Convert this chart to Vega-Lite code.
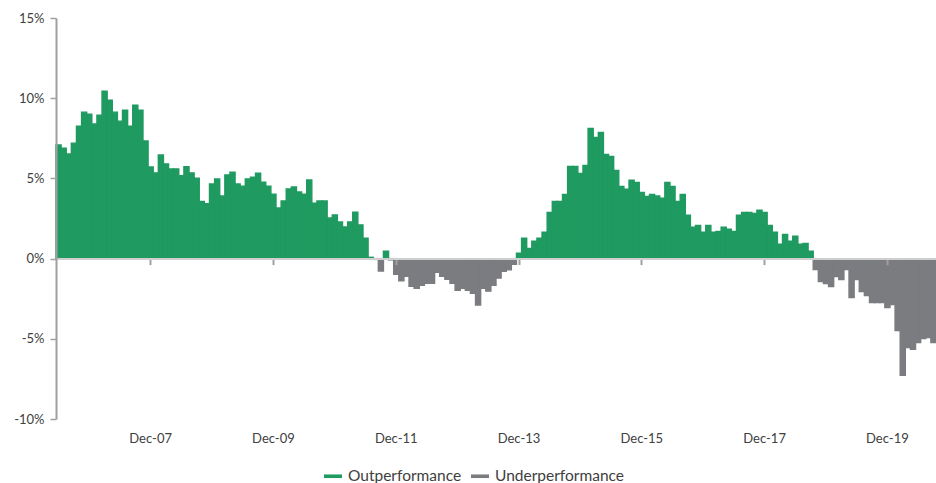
{
  "$schema": "https://vega.github.io/schema/vega-lite/v6.json",
  "autosize": "none",
  "width": 880,
  "height": 401,
  "padding": {"left": 56, "top": 18, "right": 0, "bottom": 64},
  "background": "white",
  "config": {
    "font": "Lato",
    "view": {"stroke": null}
  },
  "data": {"values": [
    {"d":"2006-06","v":7.08,"s":"Outperformance"},{"d":"2006-07","v":6.89,"s":"Outperformance"},{"d":"2006-08","v":6.52,"s":"Outperformance"},{"d":"2006-09","v":7.20,"s":"Outperformance"},{"d":"2006-10","v":8.26,"s":"Outperformance"},{"d":"2006-11","v":9.13,"s":"Outperformance"},{"d":"2006-12","v":9.00,"s":"Outperformance"},
    {"d":"2007-01","v":8.39,"s":"Outperformance"},{"d":"2007-02","v":8.94,"s":"Outperformance"},{"d":"2007-03","v":10.43,"s":"Outperformance"},{"d":"2007-04","v":9.88,"s":"Outperformance"},{"d":"2007-05","v":9.13,"s":"Outperformance"},{"d":"2007-06","v":8.57,"s":"Outperformance"},{"d":"2007-07","v":9.25,"s":"Outperformance"},{"d":"2007-08","v":8.26,"s":"Outperformance"},{"d":"2007-09","v":9.57,"s":"Outperformance"},{"d":"2007-10","v":9.25,"s":"Outperformance"},{"d":"2007-11","v":7.33,"s":"Outperformance"},{"d":"2007-12","v":5.71,"s":"Outperformance"},
    {"d":"2008-01","v":5.34,"s":"Outperformance"},{"d":"2008-02","v":6.46,"s":"Outperformance"},{"d":"2008-03","v":5.90,"s":"Outperformance"},{"d":"2008-04","v":5.59,"s":"Outperformance"},{"d":"2008-05","v":5.59,"s":"Outperformance"},{"d":"2008-06","v":5.17,"s":"Outperformance"},{"d":"2008-07","v":5.73,"s":"Outperformance"},{"d":"2008-08","v":5.34,"s":"Outperformance"},{"d":"2008-09","v":5.02,"s":"Outperformance"},{"d":"2008-10","v":3.56,"s":"Outperformance"},{"d":"2008-11","v":3.43,"s":"Outperformance"},{"d":"2008-12","v":4.65,"s":"Outperformance"},
    {"d":"2009-01","v":4.96,"s":"Outperformance"},{"d":"2009-02","v":3.90,"s":"Outperformance"},{"d":"2009-03","v":5.21,"s":"Outperformance"},{"d":"2009-04","v":5.39,"s":"Outperformance"},{"d":"2009-05","v":4.65,"s":"Outperformance"},{"d":"2009-06","v":4.52,"s":"Outperformance"},{"d":"2009-07","v":4.96,"s":"Outperformance"},{"d":"2009-08","v":5.08,"s":"Outperformance"},{"d":"2009-09","v":5.33,"s":"Outperformance"},{"d":"2009-10","v":4.77,"s":"Outperformance"},{"d":"2009-11","v":4.52,"s":"Outperformance"},{"d":"2009-12","v":4.02,"s":"Outperformance"},
    {"d":"2010-01","v":3.15,"s":"Outperformance"},{"d":"2010-02","v":3.59,"s":"Outperformance"},{"d":"2010-03","v":4.34,"s":"Outperformance"},{"d":"2010-04","v":4.46,"s":"Outperformance"},{"d":"2010-05","v":4.15,"s":"Outperformance"},{"d":"2010-06","v":4.02,"s":"Outperformance"},{"d":"2010-07","v":4.90,"s":"Outperformance"},{"d":"2010-08","v":3.46,"s":"Outperformance"},{"d":"2010-09","v":3.59,"s":"Outperformance"},{"d":"2010-10","v":3.59,"s":"Outperformance"},{"d":"2010-11","v":2.53,"s":"Outperformance"},{"d":"2010-12","v":2.72,"s":"Outperformance"},
    {"d":"2011-01","v":2.28,"s":"Outperformance"},{"d":"2011-02","v":1.97,"s":"Outperformance"},{"d":"2011-03","v":2.28,"s":"Outperformance"},{"d":"2011-04","v":2.90,"s":"Outperformance"},{"d":"2011-05","v":2.10,"s":"Outperformance"},{"d":"2011-06","v":1.27,"s":"Outperformance"},{"d":"2011-07","v":0.08,"s":"Outperformance"},{"d":"2011-08","v":-0.05,"s":"Underperformance"},{"d":"2011-09","v":-0.77,"s":"Underperformance"},{"d":"2011-10","v":0.46,"s":"Outperformance"},{"d":"2011-11","v":-0.08,"s":"Underperformance"},{"d":"2011-12","v":-0.98,"s":"Underperformance"},
    {"d":"2012-01","v":-1.39,"s":"Underperformance"},{"d":"2012-02","v":-1.10,"s":"Underperformance"},{"d":"2012-03","v":-1.72,"s":"Underperformance"},{"d":"2012-04","v":-1.85,"s":"Underperformance"},{"d":"2012-05","v":-1.66,"s":"Underperformance"},{"d":"2012-06","v":-1.54,"s":"Underperformance"},{"d":"2012-07","v":-1.54,"s":"Underperformance"},{"d":"2012-08","v":-0.85,"s":"Underperformance"},{"d":"2012-09","v":-1.10,"s":"Underperformance"},{"d":"2012-10","v":-1.29,"s":"Underperformance"},{"d":"2012-11","v":-1.54,"s":"Underperformance"},{"d":"2012-12","v":-1.97,"s":"Underperformance"},
    {"d":"2013-01","v":-1.85,"s":"Underperformance"},{"d":"2013-02","v":-1.97,"s":"Underperformance"},{"d":"2013-03","v":-2.16,"s":"Underperformance"},{"d":"2013-04","v":-2.90,"s":"Underperformance"},{"d":"2013-05","v":-1.85,"s":"Underperformance"},{"d":"2013-06","v":-2.03,"s":"Underperformance"},{"d":"2013-07","v":-1.66,"s":"Underperformance"},{"d":"2013-08","v":-1.22,"s":"Underperformance"},{"d":"2013-09","v":-0.79,"s":"Underperformance"},{"d":"2013-10","v":-0.70,"s":"Underperformance"},{"d":"2013-11","v":-0.35,"s":"Underperformance"},{"d":"2013-12","v":0.33,"s":"Outperformance"},
    {"d":"2014-01","v":1.27,"s":"Outperformance"},{"d":"2014-02","v":0.64,"s":"Outperformance"},{"d":"2014-03","v":1.08,"s":"Outperformance"},{"d":"2014-04","v":1.27,"s":"Outperformance"},{"d":"2014-05","v":1.64,"s":"Outperformance"},{"d":"2014-06","v":2.88,"s":"Outperformance"},{"d":"2014-07","v":3.57,"s":"Outperformance"},{"d":"2014-08","v":3.57,"s":"Outperformance"},{"d":"2014-09","v":4.00,"s":"Outperformance"},{"d":"2014-10","v":5.75,"s":"Outperformance"},{"d":"2014-11","v":5.75,"s":"Outperformance"},{"d":"2014-12","v":5.31,"s":"Outperformance"},
    {"d":"2015-01","v":5.81,"s":"Outperformance"},{"d":"2015-02","v":8.11,"s":"Outperformance"},{"d":"2015-03","v":7.55,"s":"Outperformance"},{"d":"2015-04","v":7.86,"s":"Outperformance"},{"d":"2015-05","v":6.49,"s":"Outperformance"},{"d":"2015-06","v":6.37,"s":"Outperformance"},{"d":"2015-07","v":5.50,"s":"Outperformance"},{"d":"2015-08","v":4.50,"s":"Outperformance"},{"d":"2015-09","v":4.32,"s":"Outperformance"},{"d":"2015-10","v":4.88,"s":"Outperformance"},{"d":"2015-11","v":4.75,"s":"Outperformance"},{"d":"2015-12","v":4.13,"s":"Outperformance"},
    {"d":"2016-01","v":3.88,"s":"Outperformance"},{"d":"2016-02","v":4.00,"s":"Outperformance"},{"d":"2016-03","v":3.90,"s":"Outperformance"},{"d":"2016-04","v":3.76,"s":"Outperformance"},{"d":"2016-05","v":4.75,"s":"Outperformance"},{"d":"2016-06","v":4.50,"s":"Outperformance"},{"d":"2016-07","v":3.57,"s":"Outperformance"},{"d":"2016-08","v":4.00,"s":"Outperformance"},{"d":"2016-09","v":2.70,"s":"Outperformance"},{"d":"2016-10","v":1.95,"s":"Outperformance"},{"d":"2016-11","v":2.07,"s":"Outperformance"},{"d":"2016-12","v":1.64,"s":"Outperformance"},
    {"d":"2017-01","v":2.07,"s":"Outperformance"},{"d":"2017-02","v":1.64,"s":"Outperformance"},{"d":"2017-03","v":1.70,"s":"Outperformance"},{"d":"2017-04","v":1.95,"s":"Outperformance"},{"d":"2017-05","v":1.83,"s":"Outperformance"},{"d":"2017-06","v":1.70,"s":"Outperformance"},{"d":"2017-07","v":2.70,"s":"Outperformance"},{"d":"2017-08","v":2.88,"s":"Outperformance"},{"d":"2017-09","v":2.88,"s":"Outperformance"},{"d":"2017-10","v":2.82,"s":"Outperformance"},{"d":"2017-11","v":3.01,"s":"Outperformance"},{"d":"2017-12","v":2.88,"s":"Outperformance"},
    {"d":"2018-01","v":2.07,"s":"Outperformance"},{"d":"2018-02","v":1.64,"s":"Outperformance"},{"d":"2018-03","v":0.89,"s":"Outperformance"},{"d":"2018-04","v":1.51,"s":"Outperformance"},{"d":"2018-05","v":1.08,"s":"Outperformance"},{"d":"2018-06","v":1.39,"s":"Outperformance"},{"d":"2018-07","v":0.89,"s":"Outperformance"},{"d":"2018-08","v":0.95,"s":"Outperformance"},{"d":"2018-09","v":0.46,"s":"Outperformance"},{"d":"2018-10","v":-0.68,"s":"Underperformance"},{"d":"2018-11","v":-1.43,"s":"Underperformance"},{"d":"2018-12","v":-1.56,"s":"Underperformance"},
    {"d":"2019-01","v":-1.74,"s":"Underperformance"},{"d":"2019-02","v":-1.12,"s":"Underperformance"},{"d":"2019-03","v":-1.31,"s":"Underperformance"},{"d":"2019-04","v":-0.68,"s":"Underperformance"},{"d":"2019-05","v":-2.43,"s":"Underperformance"},{"d":"2019-06","v":-1.31,"s":"Underperformance"},{"d":"2019-07","v":-2.05,"s":"Underperformance"},{"d":"2019-08","v":-2.30,"s":"Underperformance"},{"d":"2019-09","v":-2.74,"s":"Underperformance"},{"d":"2019-10","v":-2.74,"s":"Underperformance"},{"d":"2019-11","v":-2.74,"s":"Underperformance"},{"d":"2019-12","v":-3.05,"s":"Underperformance"},
    {"d":"2020-01","v":-2.86,"s":"Underperformance"},{"d":"2020-02","v":-4.48,"s":"Underperformance"},{"d":"2020-03","v":-7.28,"s":"Underperformance"},{"d":"2020-04","v":-5.54,"s":"Underperformance"},{"d":"2020-05","v":-5.66,"s":"Underperformance"},{"d":"2020-06","v":-5.23,"s":"Underperformance"},{"d":"2020-07","v":-4.98,"s":"Underperformance"},{"d":"2020-08","v":-4.92,"s":"Underperformance"},{"d":"2020-09","v":-5.23,"s":"Underperformance"}
  ]},
  "mark": {"type": "bar", "cornerRadius": 0, "width": {"band": 1}, "strokeWidth": 1.4},
  "encoding": {
    "x": {
      "field": "d",
      "type": "ordinal",
      "scale": {"paddingInner": 0, "paddingOuter": 0},
      "axis": {
        "title": null,
        "values": ["2007-12", "2009-12", "2011-12", "2013-12", "2015-12", "2017-12", "2019-12"],
        "labelExpr": "'Dec-' + slice(datum.value, 2, 4)",
        "labelAngle": 0,
        "labelFontSize": 13,
        "labelColor": "#404040",
        "offset": -160.4,
        "labelPadding": 168,
        "tickSize": 6,
        "tickWidth": 2,
        "tickColor": "#a0a0a0",
        "domainColor": "#cfcfcf",
        "domainWidth": 2,
        "zindex": 1
      }
    },
    "y": {
      "field": "v",
      "type": "quantitative",
      "scale": {"domain": [-10, 15], "nice": false, "zero": false},
      "axis": {
        "title": null,
        "values": [-10, -5, 0, 5, 10, 15],
        "labelExpr": "datum.value + '%'",
        "labelFontSize": 13,
        "labelColor": "#404040",
        "labelPadding": 6,
        "grid": false,
        "tickSize": 6,
        "tickColor": "#a0a0a0",
        "tickWidth": 1.5,
        "domainColor": "#a0a0a0",
        "domainWidth": 2,
        "zindex": 1
      }
    },
    "color": {
      "field": "s",
      "type": "nominal",
      "scale": {"domain": ["Outperformance", "Underperformance"], "range": ["#1f9a60", "#7b7c80"]},
      "legend": {
        "title": null,
        "orient": "none",
        "direction": "horizontal",
        "legendX": 268,
        "legendY": 449,
        "symbolType": "M-1,-0.2L1,-0.2L1,0.2L-1,0.2Z",
        "symbolSize": 324,
        "symbolStrokeWidth": 0,
        "labelFontSize": 15.5,
        "labelColor": "#404040",
        "labelOffset": 6,
        "columnPadding": 9
      }
    },
    "stroke": {
      "field": "s",
      "type": "nominal",
      "scale": {"domain": ["Outperformance", "Underperformance"], "range": ["#1f9a60", "#7b7c80"]},
      "legend": null
    }
  }
}
